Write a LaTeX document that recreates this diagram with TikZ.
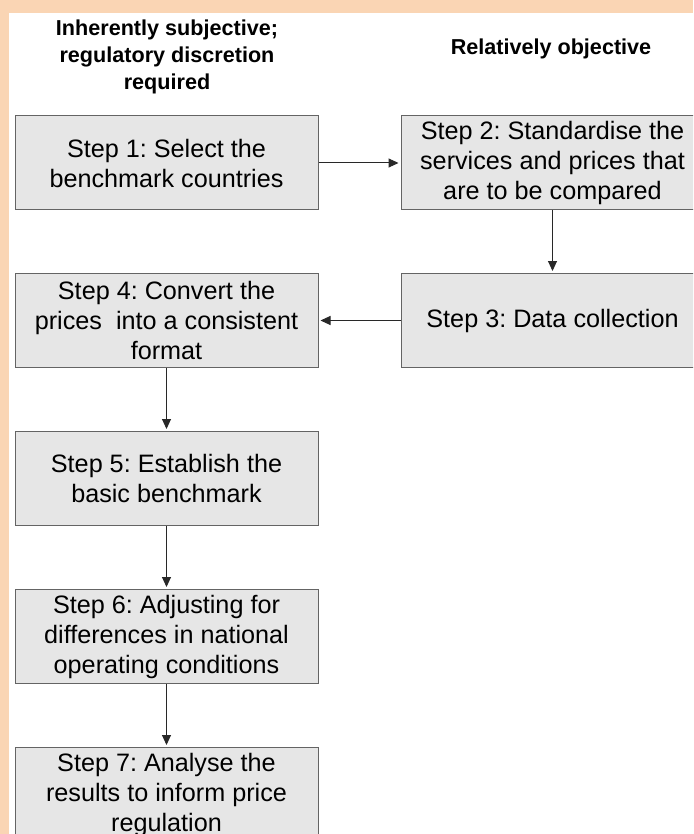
\documentclass[tikz,border=0pt]{standalone}
\usepackage{fontspec}
\setmainfont{Liberation Sans}
\usetikzlibrary{arrows.meta}
\definecolor{peach}{RGB}{250,213,180}
\definecolor{boxfill}{RGB}{230,230,230}
\definecolor{boxline}{RGB}{100,100,100}
\definecolor{arrowcol}{RGB}{40,40,40}
\tikzset{
  stepbox/.style={draw=boxline, line width=1pt, fill=boxfill, minimum width=303pt, minimum height=94pt, inner sep=0pt, align=center, text=black, font=\frenchspacing\fontsize{25.2}{30}\selectfont},
  header/.style={align=center, font=\frenchspacing\bfseries\fontsize{21.6}{27}\selectfont, text=black},
  conn/.style={draw=arrowcol, line width=1pt, -{Triangle[length=10pt,width=9pt]}, shorten >=2pt}
}
\begin{document}
\begin{tikzpicture}[x=1pt,y=-1pt]
\useasboundingbox (0,0) rectangle (693,834);
\clip (0,0) rectangle (693,834);
\fill[peach] (0,0) rectangle (693,834);
\fill[white] (9,13) rectangle (700,840);
\node[header] (h1) at (167,57) {Inherently subjective;\\regulatory discretion\\required};
\node[header] (h2) at (551,49) {Relatively objective};
\node[stepbox] (s1) at (166.5,163) {Step 1: Select the\\benchmark countries};
\node[stepbox] (s2) at (552.5,163) {Step 2: Standardise the\\services and prices that\\are to be compared};
\node[stepbox] (s3) at (552.5,320.5) {Step 3: Data collection};
\node[stepbox] (s4) at (166.5,320.5) {Step 4: Convert the\\prices\ \ into a consistent\\format};
\node[stepbox] (s5) at (166.5,478.5) {Step 5: Establish the\\basic benchmark};
\node[stepbox] (s6) at (166.5,636.5) {Step 6: Adjusting for\\differences in national\\operating conditions};
\node[stepbox] (s7) at (166.5,794.5) {Step 7: Analyse the\\results to inform price\\regulation};
\draw[conn] (s1) -- (s2);
\draw[conn] (s2) -- (s3);
\draw[conn] (s3) -- (s4);
\draw[conn] (s4) -- (s5);
\draw[conn] (s5) -- (s6);
\draw[conn] (s6) -- (s7);
\end{tikzpicture}
\end{document}
